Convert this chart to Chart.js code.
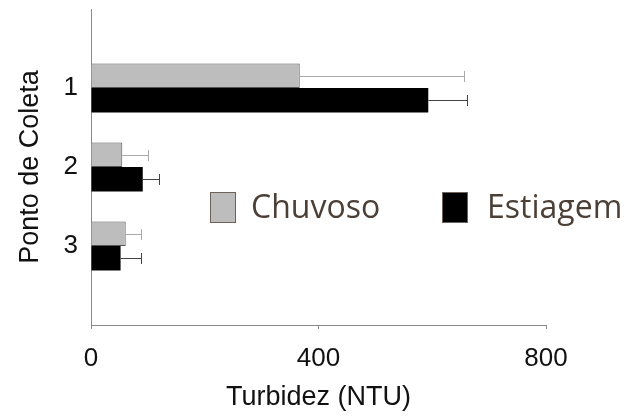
<!DOCTYPE html>
<html>
<head>
<meta charset="utf-8">
<script src="https://cdn.jsdelivr.net/npm/chart.js@4/dist/chart.umd.min.js"></script>
<style>
  html, body { margin: 0; padding: 0; background: #fff; }
  #wrap { width: 636px; height: 417px; }
</style>
</head>
<body>
<div id="wrap"><canvas id="c" width="636" height="417"></canvas></div>
<script>
// Sampling points and mean turbidity (NTU) per season
const categories = ['1', '2', '3'];
const chuvoso = [367, 55, 61];
const estiagem = [593, 91, 52];
// Positive standard deviation per point
const chuvosoErr = [289, 46, 27];
const estiagemErr = [68, 29, 36];
const xTicks = [0, 400, 800];

// Empty slots above and below keep the rows evenly spaced inside the axis
const labels = ['', ...categories, ''];
const pad = arr => [null, ...arr, null];

const errorBars = {
  id: 'errorBars',
  afterDatasetsDraw(chart) {
    const ctx = chart.ctx;
    const xs = chart.scales.x;
    chart.data.datasets.forEach((ds, di) => {
      const meta = chart.getDatasetMeta(di);
      ctx.save();
      ctx.strokeStyle = ds.errColor;
      ctx.lineWidth = 1;
      meta.data.forEach((bar, i) => {
        const v = ds.data[i];
        if (v == null) return;
        const e = ds.errors[i];
        const x0 = xs.getPixelForValue(v);
        const x1 = Math.round(xs.getPixelForValue(v + e)) + 0.5;
        const y = Math.round(bar.y) + 0.5;
        ctx.beginPath();
        ctx.moveTo(x0, y);
        ctx.lineTo(x1, y);
        ctx.moveTo(x1, y - 5.5);
        ctx.lineTo(x1, y + 5.5);
        ctx.stroke();
      });
      ctx.restore();
    });
  }
};

const seasonLegend = {
  id: 'seasonLegend',
  afterDraw(chart, args, opts) {
    const ctx = chart.ctx;
    ctx.save();
    ctx.font = opts.font;
    ctx.textBaseline = 'alphabetic';
    chart.data.datasets.forEach((ds, di) => {
      const it = opts.items[di];
      ctx.fillStyle = ds.backgroundColor;
      ctx.fillRect(it.box, opts.boxTop, opts.boxW, opts.boxH);
      ctx.strokeStyle = opts.boxBorder;
      ctx.lineWidth = 1;
      ctx.strokeRect(it.box + 0.5, opts.boxTop + 0.5, opts.boxW - 1, opts.boxH - 1);
      ctx.fillStyle = opts.color;
      ctx.fillText(ds.label, it.text, opts.baseline);
    });
    ctx.restore();
  }
};

new Chart(document.getElementById('c'), {
  type: 'bar',
  data: {
    labels: labels,
    datasets: [
      {
        label: 'Chuvoso',
        data: pad(chuvoso),
        errors: pad(chuvosoErr),
        errColor: '#a9a9a9',
        backgroundColor: '#bdbdbd',
        borderColor: '#555555',
        borderWidth: 1,
        borderSkipped: 'left'
      },
      {
        label: 'Estiagem',
        data: pad(estiagem),
        errors: pad(estiagemErr),
        errColor: '#444444',
        backgroundColor: '#000000',
        borderWidth: 0
      }
    ]
  },
  options: {
    indexAxis: 'y',
    responsive: false,
    animation: false,
    events: [],
    categoryPercentage: 0.62,
    barPercentage: 1.0,
    layout: { padding: { top: 9, right: 90, left: 0, bottom: 0 } },
    plugins: {
      legend: { display: false },
      tooltip: { enabled: false },
      seasonLegend: {
        font: '32px "Open Sans"',
        color: '#4b3f36',
        boxBorder: '#6e6258',
        boxTop: 192,
        boxW: 26,
        boxH: 31,
        baseline: 218,
        items: [ { box: 210, text: 251 }, { box: 442, text: 487 } ]
      }
    },
    scales: {
      x: {
        type: 'linear',
        min: 0,
        max: 800,
        afterBuildTicks(scale) { scale.ticks = xTicks.map(v => ({ value: v })); },
        afterFit(scale) { scale.height = 92; },
        grid: { display: true, drawOnChartArea: false, drawTicks: true, tickLength: 4, color: '#8a8a8a' },
        border: { display: true, color: '#8a8a8a', width: 1 },
        ticks: { color: '#111', font: { family: '"Liberation Sans", Arial', size: 26 }, padding: 14, maxRotation: 0 },
        title: {
          display: true,
          text: 'Turbidez (NTU)',
          color: '#111',
          font: { family: '"Liberation Sans", Arial', size: 27 },
          padding: { top: 0, bottom: 3 }
        }
      },
      y: {
        type: 'category',
        offset: false,
        afterFit(scale) {
          scale.width = 91;
          scale.paddingTop = 0;
          scale.paddingBottom = 0;
        },
        grid: { display: false, drawTicks: false },
        border: { display: true, color: '#8a8a8a', width: 1 },
        ticks: { color: '#111', font: { family: '"Liberation Sans", Arial', size: 26 }, padding: 13, autoSkip: false },
        title: {
          display: true,
          text: 'Ponto de Coleta',
          color: '#111',
          font: { family: '"Liberation Sans", Arial', size: 27 },
          padding: { top: 14, bottom: 0 }
        }
      }
    }
  },
  plugins: [errorBars, seasonLegend]
});
</script>
</body>
</html>
